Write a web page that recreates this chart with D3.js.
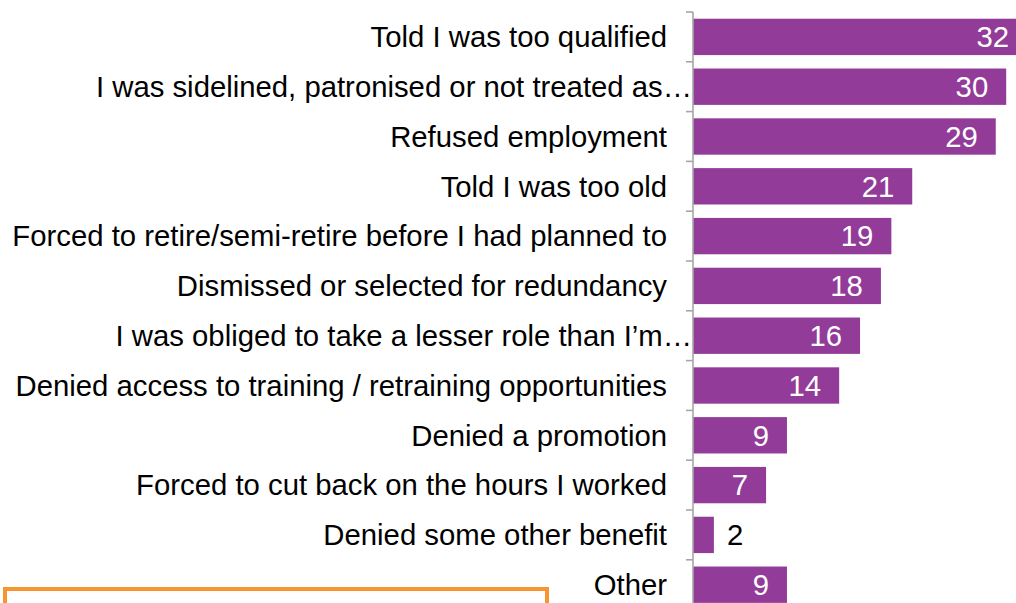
<!DOCTYPE html>
<html>
<head>
<meta charset="utf-8">
<script src="https://d3js.org/d3.v7.min.js"></script>
<style>
  html, body { margin: 0; padding: 0; background: #ffffff; }
  svg { display: block; }
  text { font-family: "Liberation Sans", Arial, sans-serif; }
</style>
</head>
<body>
<svg id="chart" width="1016" height="603"></svg>
<script>
const categories = [
  "Told I was too qualified",
  "I was sidelined, patronised or not treated as…",
  "Refused employment",
  "Told I was too old",
  "Forced to retire/semi-retire before I had planned to",
  "Dismissed or selected for redundancy",
  "I was obliged to take a lesser role than I’m…",
  "Denied access to training / retraining opportunities",
  "Denied a promotion",
  "Forced to cut back on the hours I worked",
  "Denied some other benefit",
  "Other"
];
const values = [32, 30, 29, 21, 19, 18, 16, 14, 9, 7, 2, 9];

const W = 1016, H = 603;
const svg = d3.select("#chart");

const axisX = 693;
const unit = 10.44;
const x = d3.scaleLinear().domain([0, 35]).range([axisX, axisX + 35 * unit]);
const y = d3.scaleBand().domain(categories).range([12, 12 + 49.8 * categories.length]).paddingInner(0.27).paddingOuter(0.135);

const fontSize = 29.3;
const purple = "#933b99";

// bars
svg.append("g").selectAll("rect")
  .data(categories)
  .join("rect")
  .attr("x", x(0))
  .attr("y", d => y(d))
  .attr("width", (d, i) => x(values[i]) - x(0))
  .attr("height", y.bandwidth())
  .attr("fill", purple);

// axis line and ticks at band boundaries
const step = y.step();
const g = svg.append("g");
g.append("line")
  .attr("x1", axisX).attr("x2", axisX)
  .attr("y1", 12).attr("y2", H + 10)
  .attr("stroke", "#a6a6a6").attr("stroke-width", 1.6);
categories.forEach((c, i) => {
  const ty = 12 + i * step;
  g.append("line")
    .attr("x1", axisX - 7).attr("x2", axisX)
    .attr("y1", ty).attr("y2", ty)
    .attr("stroke", "#a6a6a6").attr("stroke-width", 1.6);
});

// category labels
svg.append("g").selectAll("text")
  .data(categories)
  .join("text")
  .attr("x", d => d.endsWith("…") ? axisX - 1 : axisX - 26)
  .attr("y", d => y(d) + y.bandwidth() / 2)
  .attr("dy", "0.35em")
  .attr("text-anchor", "end")
  .attr("font-size", fontSize)
  .attr("fill", "#000")
  .text(d => d);

// value labels
svg.append("g").selectAll("text")
  .data(categories)
  .join("text")
  .attr("x", (d, i) => values[i] < 5 ? x(values[i]) + 13 : x(values[i]) - 18)
  .attr("y", d => y(d) + y.bandwidth() / 2)
  .attr("dy", "0.35em")
  .attr("text-anchor", (d, i) => values[i] < 5 ? "start" : "end")
  .attr("font-size", fontSize)
  .attr("fill", (d, i) => values[i] < 5 ? "#000" : "#fff")
  .text((d, i) => values[i]);

// orange box (partially visible at bottom)
svg.append("rect")
  .attr("x", 5).attr("y", 589)
  .attr("width", 542).attr("height", 60)
  .attr("fill", "none")
  .attr("stroke", "#f7952e")
  .attr("stroke-width", 4);
</script>
</body>
</html>
